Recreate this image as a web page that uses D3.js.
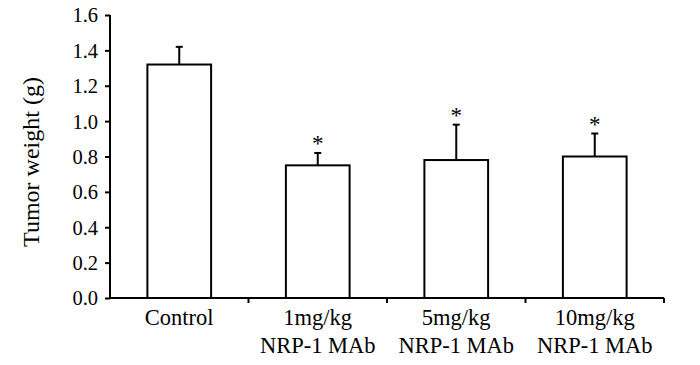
<!DOCTYPE html>
<html>
<head>
<meta charset="utf-8">
<script src="https://cdn.jsdelivr.net/npm/d3@7"></script>
<style>
  body { margin: 0; background: #fff; }
  svg text { font-family: "Liberation Serif", "Times New Roman", serif; fill: #000; }
</style>
</head>
<body>
<div id="chart"></div>
<script>
// Data
const groups = ["Control", "1mg/kg", "5mg/kg", "10mg/kg"];
const groupSub = ["", "NRP-1 MAb", "NRP-1 MAb", "NRP-1 MAb"];
const means = [1.32, 0.75, 0.78, 0.80];
const errors = [0.10, 0.07, 0.20, 0.13];
const significant = [false, true, true, true];
const yTicks = [0, 0.2, 0.4, 0.6, 0.8, 1.0, 1.2, 1.4, 1.6];

const width = 700;
const height = 365;
const margin = {top: 15, right: 36, bottom: 67, left: 110};

const svg = d3.select("#chart")
    .append("svg")
    .attr("width", width)
    .attr("height", height)
    .attr("viewBox", [0, 0, width, height]);

const x = d3.scaleBand()
    .domain(groups)
    .range([margin.left, width - margin.right])
    .paddingInner(0.54)
    .paddingOuter(0.27);

const y = d3.scaleLinear()
    .domain([0, 1.6])
    .range([height - margin.bottom, margin.top]);

// Bars
svg.append("g")
    .selectAll("rect")
    .data(groups)
    .join("rect")
    .attr("x", d => x(d))
    .attr("y", (d, i) => y(means[i]))
    .attr("width", x.bandwidth())
    .attr("height", (d, i) => y(0) - y(means[i]))
    .attr("fill", "#fff")
    .attr("stroke", "#000")
    .attr("stroke-width", 2);

// Error bars (upper only)
const err = svg.append("g")
    .attr("stroke", "#000")
    .attr("stroke-width", 2);

err.selectAll("line.stem")
    .data(groups)
    .join("line")
    .attr("class", "stem")
    .attr("x1", d => x(d) + x.bandwidth() / 2)
    .attr("x2", d => x(d) + x.bandwidth() / 2)
    .attr("y1", (d, i) => y(means[i]))
    .attr("y2", (d, i) => y(means[i] + errors[i]));

err.selectAll("line.cap")
    .data(groups)
    .join("line")
    .attr("class", "cap")
    .attr("x1", d => x(d) + x.bandwidth() / 2 - 3.5)
    .attr("x2", d => x(d) + x.bandwidth() / 2 + 3.5)
    .attr("y1", (d, i) => y(means[i] + errors[i]))
    .attr("y2", (d, i) => y(means[i] + errors[i]));

// Significance stars
svg.append("g")
    .selectAll("text")
    .data(groups.filter((d, i) => significant[i]))
    .join("text")
    .attr("x", d => x(d) + x.bandwidth() / 2)
    .attr("y", d => { const i = groups.indexOf(d); return y(means[i] + errors[i]) - 2; })
    .attr("text-anchor", "middle")
    .attr("font-size", 23)
    .text("*");

// Y axis
const yAxis = svg.append("g")
    .attr("transform", `translate(${margin.left},0)`)
    .call(d3.axisLeft(y).tickValues(yTicks).tickFormat(d3.format(".1f")).tickSize(5).tickPadding(7));
yAxis.select(".domain").attr("stroke-width", 2).attr("d", `M0,${y(1.6)}V${y(0)}`);
yAxis.selectAll(".tick line").attr("stroke-width", 2);
yAxis.selectAll(".tick text")
    .attr("font-size", 20.5)
    .attr("dy", "0.34em");

// X axis with boundary ticks between groups
const edgeScale = d3.scaleLinear().domain([0, groups.length]).range([margin.left, width - margin.right]);
const xAxisG = svg.append("g");
xAxisG.append("line")
    .attr("x1", margin.left)
    .attr("x2", width - margin.right)
    .attr("y1", y(0))
    .attr("y2", y(0))
    .attr("stroke", "#000")
    .attr("stroke-width", 2);

xAxisG.selectAll("line.edge")
    .data(d3.range(1, groups.length + 1))
    .join("line")
    .attr("class", "edge")
    .attr("x1", d => edgeScale(d))
    .attr("x2", d => edgeScale(d))
    .attr("y1", y(0))
    .attr("y2", y(0) + 5)
    .attr("stroke", "#000")
    .attr("stroke-width", 2);

const labels = svg.append("g")
    .selectAll("text")
    .data(groups)
    .join("text")
    .attr("text-anchor", "middle")
    .attr("font-size", 22.5)
    .attr("x", d => x(d) + x.bandwidth() / 2)
    .attr("y", y(0) + 27);
labels.append("tspan").text(d => d);
labels.append("tspan")
    .attr("x", d => x(d) + x.bandwidth() / 2)
    .attr("dy", 28)
    .text((d, i) => groupSub[i]);

// Y axis title
svg.append("text")
    .attr("transform", `translate(39,162) rotate(-90)`)
    .attr("text-anchor", "middle")
    .attr("font-size", 24)
    .text("Tumor weight (g)");
</script>
</body>
</html>
